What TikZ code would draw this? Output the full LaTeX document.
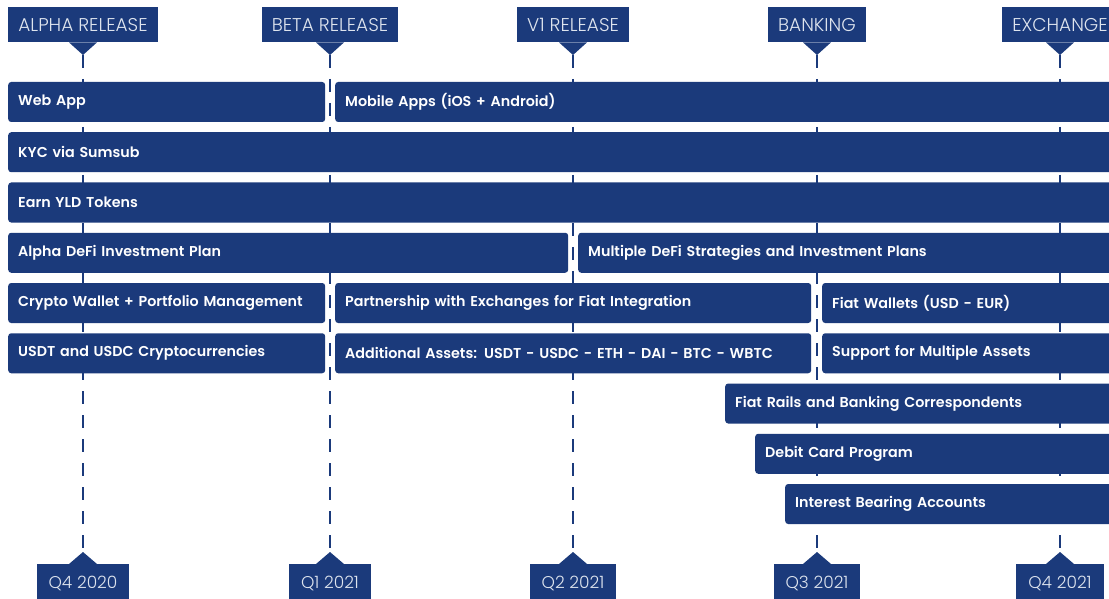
\documentclass[tikz,border=0pt]{standalone}
\usepackage{fontspec}
\setmainfont{Poppins}
\newfontfamily\lightfont{Poppins Light}
\newfontfamily\barfont{Poppins SemiBold}
\definecolor{roadblue}{RGB}{27,58,123}
\definecolor{roadtext}{RGB}{222,228,238}
\tikzset{
  phase/.style={fill=roadblue, text=roadtext, inner xsep=10pt, inner ysep=0pt, minimum height=35pt, font=\lightfont\fontsize{18.5}{18.5}\selectfont},
  quarter/.style={phase, minimum height=38pt, inner xsep=12pt, font=\lightfont\fontsize{17}{17}\selectfont},
  timeline/.style={draw=roadblue, line width=2pt, dash pattern=on 13pt off 11pt},
  task/.style={fill=roadblue, text=white, rounded corners=3pt, minimum height=40pt, inner xsep=10pt, inner ysep=0pt, align=left, font=\barfont\fontsize{14.3}{14.3}\selectfont}
}
\newcommand \mytask[5]
{
\pgfmathsetmacro\taskw{#3-#2-20}
\pgfmathsetmacro\tasky{102+50.25*(#4-1)}
\node[task, anchor=west, text width=\taskw pt] (#1) at (#2,\tasky) {#5};  % bar from x1 to x2
}
\begin{document}
\begin{tikzpicture}[x=1pt, y=-1pt]
\useasboundingbox (0,0) rectangle (1109,599);
\clip (0,0) rectangle (1109,599);
\foreach \x/\ms/\mstext/\qt/\qttext in {83/alpha/ALPHA RELEASE/qa/Q4 2020, 330/beta/BETA RELEASE/qb/Q1 2021, 573/vone/V1 RELEASE/qc/Q2 2021, 817/banking/BANKING/qd/Q3 2021, 1060/exchange/EXCHANGE/qe/Q4 2021}
{
\node[phase, anchor=north] (\ms) at (\x,7) {\mstext};
\coordinate (\ms-tip) at (\x,55);
\fill[roadblue] ([xshift=-14pt]\ms.south) -- (\ms-tip) -- ([xshift=14pt]\ms.south) -- cycle;
\node[quarter, anchor=north] (\qt) at (\x,564) {\qttext};
\coordinate (\qt-tip) at (\x,552);
\fill[roadblue] ([xshift=-14pt]\qt.north) -- (\qt-tip) -- ([xshift=14pt]\qt.north) -- cycle;
\draw[timeline] (\ms-tip) -- (\qt-tip);
}
\mytask{web}{8}{325}{1}{Web App}
\mytask{mobile}{335}{1130}{1}{Mobile Apps (iOS + Android)}
\mytask{kyc}{8}{1130}{2}{KYC via Sumsub}
\mytask{earn}{8}{1130}{3}{Earn YLD Tokens}
\mytask{alphadefi}{8}{568}{4}{Alpha DeFi Investment Plan}
\mytask{multidefi}{578}{1130}{4}{Multiple DeFi Strategies and Investment Plans}
\mytask{wallet}{8}{325}{5}{Crypto Wallet + Portfolio Management}
\mytask{partner}{335}{811}{5}{Partnership with Exchanges for Fiat Integration}
\mytask{fiatwallet}{822}{1130}{5}{Fiat Wallets (USD - EUR)}
\mytask{stable}{8}{325}{6}{USDT and USDC Cryptocurrencies}
\mytask{assets}{335}{811}{6}{Additional Assets: USDT - USDC - ETH - DAI - BTC - WBTC}
\mytask{multiassets}{822}{1130}{6}{Support for Multiple Assets}
\mytask{rails}{725}{1130}{7}{Fiat Rails and Banking Correspondents}
\mytask{debit}{755}{1130}{8}{Debit Card Program}
\mytask{interest}{785}{1130}{9}{Interest Bearing Accounts}
\end{tikzpicture}
\end{document}
